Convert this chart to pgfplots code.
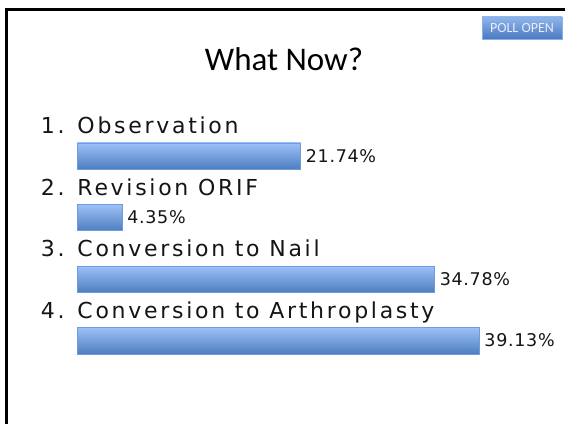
\documentclass[border=0pt]{standalone}
\usepackage{pgfplots}
\pgfplotsset{compat=1.18}
\usepackage{fontspec}
\setmainfont{DejaVu Sans}
\newfontfamily\itemfont{DejaVu Sans}[LetterSpace=12.3]
\newfontfamily\pctfont{DejaVu Sans}[LetterSpace=4]
\newfontfamily\calib{Carlito}
\definecolor{bartop}{HTML}{9CC1F7}
\definecolor{barbot}{HTML}{4E7EBF}
\definecolor{barline}{HTML}{6D9CE2}
\definecolor{btntop}{HTML}{8FB5EA}
\definecolor{btnbot}{HTML}{4A7AC2}
\definecolor{txt}{HTML}{151515}
\tikzset{pollbar/.style={draw=barline, line width=0.6pt, top color=bartop, bottom color=barbot}}
\begin{document}
\begin{tikzpicture}[x=1pt,y=1pt]
\path[use as bounding box] (0,0) rectangle (565,424);
\fill[white] (0,0) rectangle (565,424);
\draw[line width=2.7pt,black] (6.2,0) -- (6.2,414.3) -- (566,414.3);
% title
\node[anchor=base,inner sep=0,font=\calib\fontsize{33}{36}\selectfont] at (284,353) {What Now?};
% poll button
\shade[top color=btntop,bottom color=btnbot] (482,385) rectangle (562,407);
\draw[barline!80!white,line width=0.6pt] (482,385) rectangle (562,407);
\node[anchor=base,inner sep=0,text=white!92!blue,font=\calib\fontsize{14}{16}\selectfont] at (522,391.5) {POLL OPEN};
\begin{axis}[
  at={(77.3pt,52.4pt)}, anchor=south west,
  scale only axis, width=487.7pt, height=246.4pt,
  xmin=0, xmax=47.49, ymin=-0.5, ymax=3.5,
  axis lines=none, clip=false,
  xbar, bar width=26.3pt, bar shift=0pt,
  nodes near coords={\pgfmathprintnumber[fixed,precision=2,fixed zerofill,assume math mode=true]{\pgfplotspointmeta}\%},
  nodes near coords style={anchor=base west, inner sep=0pt, xshift=5pt, yshift=-6pt, text=txt, font=\pctfont\fontsize{17.5}{20}\selectfont},
  point meta=x,
]
\addplot[pollbar] coordinates {(21.74,3)};
\addplot[pollbar] coordinates {(4.35,2)};
\addplot[pollbar] coordinates {(34.78,1)};
\addplot[pollbar] coordinates {(39.13,0)};
\foreach \y/\n/\t in {3/1/Observation,2/2/Revision ORIF,1/3/Conversion to Nail,0/4/Conversion to Arthroplasty}{
  \edef\tmp{\noexpand\node[anchor=base west,inner sep=0,text=txt,font=\noexpand\itemfont\noexpand\fontsize{22}{26}\noexpand\selectfont] at (axis cs:0,\y+0.365) {\t};
  \noexpand\node[anchor=base west,inner sep=0,text=txt,font=\noexpand\itemfont\noexpand\fontsize{22}{26}\noexpand\selectfont,xshift=-36.5pt] at (axis cs:0,\y+0.365) {\n.};}
  \tmp
}
\end{axis}
\end{tikzpicture}
\end{document}
